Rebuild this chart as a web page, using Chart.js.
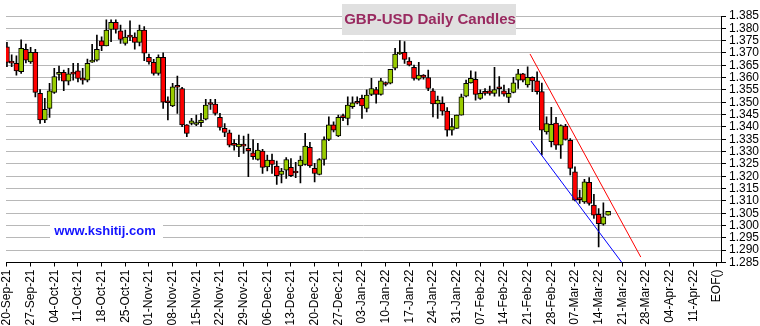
<!DOCTYPE html>
<html>
<head>
<meta charset="utf-8">
<title>GBP-USD Daily Candles</title>
<script src="https://cdn.jsdelivr.net/npm/chart.js@4/dist/chart.umd.min.js"></script>
<style>
  html, body { margin: 0; padding: 0; background: #fff; }
  #candles { display: block; }
</style>
</head>
<body>
<canvas id="candles" width="760" height="326"></canvas>
<script>
// weekly date ticks, one per 5 trading days (index 0 = 20-Sep-21)
const weekLabels = ['20-Sep-21', '27-Sep-21', '04-Oct-21', '11-Oct-21', '18-Oct-21', '25-Oct-21',
  '01-Nov-21', '08-Nov-21', '15-Nov-21', '22-Nov-21', '29-Nov-21', '06-Dec-21', '13-Dec-21',
  '20-Dec-21', '27-Dec-21', '03-Jan-22', '10-Jan-22', '17-Jan-22', '24-Jan-22', '31-Jan-22',
  '07-Feb-22', '14-Feb-22', '21-Feb-22', '28-Feb-22', '07-Mar-22', '14-Mar-22', '21-Mar-22',
  '28-Mar-22', '04-Apr-22', '11-Apr-22', 'EOF()'];

const priceTicks = [1.285, 1.290, 1.295, 1.300, 1.305, 1.310, 1.315, 1.320, 1.325, 1.330, 1.335,
  1.340, 1.345, 1.350, 1.355, 1.360, 1.365, 1.370, 1.375, 1.380, 1.385];

// daily OHLC, GBP-USD
const opens = [
  1.3725, 1.3662, 1.3658, 1.3624, 1.3715, 1.3664, 1.3703, 1.3536, 1.3428, 1.3475,
  1.3540, 1.3613, 1.3621, 1.3586, 1.3617, 1.3628, 1.3592, 1.3590, 1.3663, 1.3671,
  1.3749, 1.3729, 1.3796, 1.3824, 1.3790, 1.3739, 1.3766, 1.3764, 1.3743, 1.3793,
  1.3682, 1.3662, 1.3617, 1.3682, 1.3500, 1.3485, 1.3563, 1.3556, 1.3408, 1.3414,
  1.3410, 1.3417, 1.3431, 1.3493, 1.3493, 1.3439, 1.3394, 1.3376, 1.3327, 1.3319,
  1.3323, 1.3313, 1.3295, 1.3268, 1.3302, 1.3238, 1.3265, 1.3241, 1.3207, 1.3225,
  1.3236, 1.3215, 1.3242, 1.3248, 1.3317, 1.3232, 1.3207, 1.3268, 1.3349, 1.3408,
  1.3364, 1.3440, 1.3435, 1.3482, 1.3498, 1.3516, 1.3475, 1.3532, 1.3552, 1.3532,
  1.3574, 1.3577, 1.3638, 1.3696, 1.3703, 1.3667, 1.3642, 1.3594, 1.3610, 1.3600,
  1.3546, 1.3493, 1.3496, 1.3464, 1.3387, 1.3394, 1.3448, 1.3525, 1.3579, 1.3593,
  1.3516, 1.3538, 1.3546, 1.3536, 1.3557, 1.3546, 1.3520, 1.3540, 1.3590, 1.3615,
  1.3570, 1.3601, 1.3587, 1.3543, 1.3380, 1.3340, 1.3416, 1.3326, 1.3403, 1.3346,
  1.3218, 1.3107, 1.3096, 1.3175, 1.3083, 1.3045, 1.3005, 1.3042];
const highs = [
  1.3743, 1.3692, 1.3688, 1.3753, 1.3736, 1.3723, 1.3715, 1.3552, 1.3516, 1.3577,
  1.3638, 1.3647, 1.3631, 1.3638, 1.3658, 1.3658, 1.3638, 1.3675, 1.3735, 1.3773,
  1.3766, 1.3834, 1.3834, 1.3834, 1.3813, 1.3793, 1.3830, 1.3782, 1.3813, 1.3807,
  1.3696, 1.3674, 1.3692, 1.3701, 1.3522, 1.3577, 1.3606, 1.3561, 1.3410, 1.3435,
  1.3448, 1.3455, 1.3512, 1.3512, 1.3512, 1.3455, 1.3414, 1.3387, 1.3349, 1.3367,
  1.3363, 1.3371, 1.3349, 1.3333, 1.3309, 1.3286, 1.3290, 1.3261, 1.3232, 1.3276,
  1.3272, 1.3256, 1.3282, 1.3374, 1.3337, 1.3252, 1.3272, 1.3360, 1.3441, 1.3421,
  1.3448, 1.3452, 1.3522, 1.3522, 1.3522, 1.3529, 1.3550, 1.3597, 1.3561, 1.3597,
  1.3583, 1.3634, 1.3719, 1.3750, 1.3746, 1.3681, 1.3651, 1.3662, 1.3612, 1.3631,
  1.3556, 1.3525, 1.3522, 1.3478, 1.3435, 1.3448, 1.3533, 1.3590, 1.3628, 1.3624,
  1.3550, 1.3556, 1.3566, 1.3642, 1.3604, 1.3570, 1.3556, 1.3601, 1.3634, 1.3617,
  1.3644, 1.3603, 1.3624, 1.3578, 1.3441, 1.3479, 1.3439, 1.3408, 1.3411, 1.3353,
  1.3238, 1.3144, 1.3187, 1.3195, 1.3127, 1.3069, 1.3092, 1.3058];
const lows = [
  1.3644, 1.3644, 1.3610, 1.3617, 1.3660, 1.3658, 1.3522, 1.3414, 1.3417, 1.3439,
  1.3536, 1.3590, 1.3547, 1.3570, 1.3590, 1.3583, 1.3573, 1.3583, 1.3662, 1.3667,
  1.3709, 1.3729, 1.3746, 1.3780, 1.3739, 1.3732, 1.3750, 1.3715, 1.3729, 1.3669,
  1.3655, 1.3610, 1.3610, 1.3475, 1.3428, 1.3482, 1.3455, 1.3401, 1.3360, 1.3408,
  1.3405, 1.3401, 1.3428, 1.3471, 1.3448, 1.3387, 1.3360, 1.3319, 1.3306, 1.3279,
  1.3293, 1.3198, 1.3268, 1.3265, 1.3211, 1.3222, 1.3211, 1.3167, 1.3173, 1.3191,
  1.3198, 1.3194, 1.3173, 1.3245, 1.3236, 1.3177, 1.3205, 1.3245, 1.3344, 1.3380,
  1.3360, 1.3425, 1.3408, 1.3475, 1.3493, 1.3435, 1.3461, 1.3527, 1.3496, 1.3529,
  1.3566, 1.3574, 1.3631, 1.3694, 1.3658, 1.3647, 1.3590, 1.3590, 1.3594, 1.3547,
  1.3441, 1.3435, 1.3448, 1.3363, 1.3367, 1.3394, 1.3448, 1.3522, 1.3577, 1.3509,
  1.3512, 1.3529, 1.3529, 1.3525, 1.3525, 1.3525, 1.3498, 1.3538, 1.3556, 1.3583,
  1.3561, 1.3543, 1.3533, 1.3286, 1.3371, 1.3319, 1.3309, 1.3272, 1.3346, 1.3205,
  1.3100, 1.3090, 1.3090, 1.3083, 1.3029, 1.2913, 1.3001, 1.3042];
const closes = [
  1.3662, 1.3659, 1.3627, 1.3719, 1.3671, 1.3703, 1.3540, 1.3428, 1.3471, 1.3546,
  1.3604, 1.3621, 1.3586, 1.3615, 1.3614, 1.3597, 1.3590, 1.3658, 1.3671, 1.3715,
  1.3729, 1.3793, 1.3824, 1.3796, 1.3755, 1.3764, 1.3764, 1.3743, 1.3793, 1.3699,
  1.3664, 1.3617, 1.3682, 1.3500, 1.3498, 1.3563, 1.3561, 1.3408, 1.3374, 1.3425,
  1.3411, 1.3428, 1.3489, 1.3491, 1.3455, 1.3398, 1.3378, 1.3326, 1.3325, 1.3330,
  1.3322, 1.3303, 1.3279, 1.3306, 1.3236, 1.3265, 1.3248, 1.3202, 1.3221, 1.3268,
  1.3202, 1.3213, 1.3265, 1.3322, 1.3242, 1.3211, 1.3268, 1.3349, 1.3408, 1.3387,
  1.3439, 1.3438, 1.3489, 1.3498, 1.3496, 1.3485, 1.3529, 1.3556, 1.3532, 1.3587,
  1.3572, 1.3634, 1.3696, 1.3703, 1.3674, 1.3651, 1.3597, 1.3610, 1.3601, 1.3556,
  1.3493, 1.3509, 1.3464, 1.3387, 1.3401, 1.3448, 1.3522, 1.3577, 1.3597, 1.3532,
  1.3536, 1.3536, 1.3536, 1.3552, 1.3555, 1.3533, 1.3536, 1.3579, 1.3615, 1.3590,
  1.3601, 1.3587, 1.3543, 1.3387, 1.3414, 1.3411, 1.3326, 1.3405, 1.3349, 1.3232,
  1.3103, 1.3105, 1.3177, 1.3090, 1.3042, 1.3008, 1.3035, 1.3058];

// channel lines drawn over the latest leg down (x = trading-day index)
const upperTrend = [{ x: 110.5, y: 1.3696 }, { x: 133.9, y: 1.2872 }];
const lowerTrend = [{ x: 110.7, y: 1.3343 }, { x: 129.9, y: 1.2850 }];

const UP_COLOR = '#99cc00';
const DOWN_COLOR = '#ff0000';

const wicks = highs.map((h, i) => ({ x: i, y: [lows[i], h] }));
const bodies = opens.map((o, i) => ({ x: i, y: [o, closes[i]] }));
const bodyColors = opens.map((o, i) => closes[i] > o ? UP_COLOR : DOWN_COLOR);

// heading box and site name
const overlayText = {
  id: 'overlayText',
  afterDraw(chart) {
    const ctx = chart.ctx;
    ctx.save();
    ctx.fillStyle = '#e0e0e0';
    ctx.fillRect(342, 4, 174, 31);
    ctx.font = 'bold 15px "Liberation Sans", Arial, sans-serif';
    ctx.fillStyle = '#992a60';
    ctx.textAlign = 'center';
    ctx.textBaseline = 'middle';
    ctx.fillText('GBP-USD Daily Candles', 430, 20);

    ctx.fillStyle = '#ffffff';
    ctx.fillRect(50, 223, 113, 16);
    ctx.font = 'bold 13px "Liberation Sans", Arial, sans-serif';
    ctx.fillStyle = '#1414ff';
    ctx.fillText('www.kshitij.com', 105, 231);
    ctx.restore();
  }
};

Chart.defaults.font.family = '"Liberation Sans", Arial, sans-serif';
Chart.defaults.font.size = 12;
Chart.defaults.color = '#000';

const ctx = document.getElementById('candles').getContext('2d');
const chart = new Chart(ctx, {
  type: 'bar',
  data: {
    datasets: [
      {
        type: 'line',
        data: upperTrend,
        borderColor: '#ff0000',
        borderWidth: 1,
        pointRadius: 0,
        order: 0
      },
      {
        type: 'line',
        data: lowerTrend,
        borderColor: '#0000ff',
        borderWidth: 1,
        pointRadius: 0,
        order: 0
      },
      {
        data: bodies,
        backgroundColor: bodyColors,
        borderColor: '#000',
        borderWidth: 1,
        borderSkipped: false,
        barThickness: 5,
        minBarLength: 2,
        grouped: false,
        order: 1
      },
      {
        data: wicks,
        backgroundColor: '#000',
        borderWidth: 0,
        barThickness: 1,
        grouped: false,
        order: 2
      }
    ]
  },
  options: {
    responsive: false,
    maintainAspectRatio: false,
    animation: false,
    layout: { padding: { left: 6, top: 16, right: 0, bottom: 0 } },
    plugins: {
      legend: { display: false },
      tooltip: { enabled: false }
    },
    scales: {
      x: {
        type: 'linear',
        min: -0.2,
        max: 150.85,
        offset: false,
        afterBuildTicks: scale => {
          scale.ticks = weekLabels.map((_, i) => ({ value: i * 5 }));
        },
        afterFit: scale => { scale.height = 63.5; },
        ticks: {
          autoSkip: false,
          minRotation: 90,
          maxRotation: 90,
          padding: 3,
          callback: value => weekLabels[Math.round(value / 5)]
        },
        grid: {
          offset: false,
          drawOnChartArea: false,
          drawTicks: true,
          tickLength: 4,
          tickColor: '#000'
        },
        border: { display: true, color: '#000' }
      },
      y: {
        position: 'right',
        min: 1.285,
        max: 1.385,
        afterBuildTicks: scale => {
          scale.ticks = priceTicks.map(v => ({ value: v }));
        },
        afterFit: scale => { scale.width = 39; },
        ticks: {
          autoSkip: false,
          padding: 3,
          callback: value => value.toFixed(3)
        },
        grid: {
          color: '#b8b8b8',
          lineWidth: 1,
          tickLength: 5,
          tickColor: '#000'
        },
        border: { display: true, color: '#000' }
      }
    }
  },
  plugins: [overlayText]
});
</script>
</body>
</html>
